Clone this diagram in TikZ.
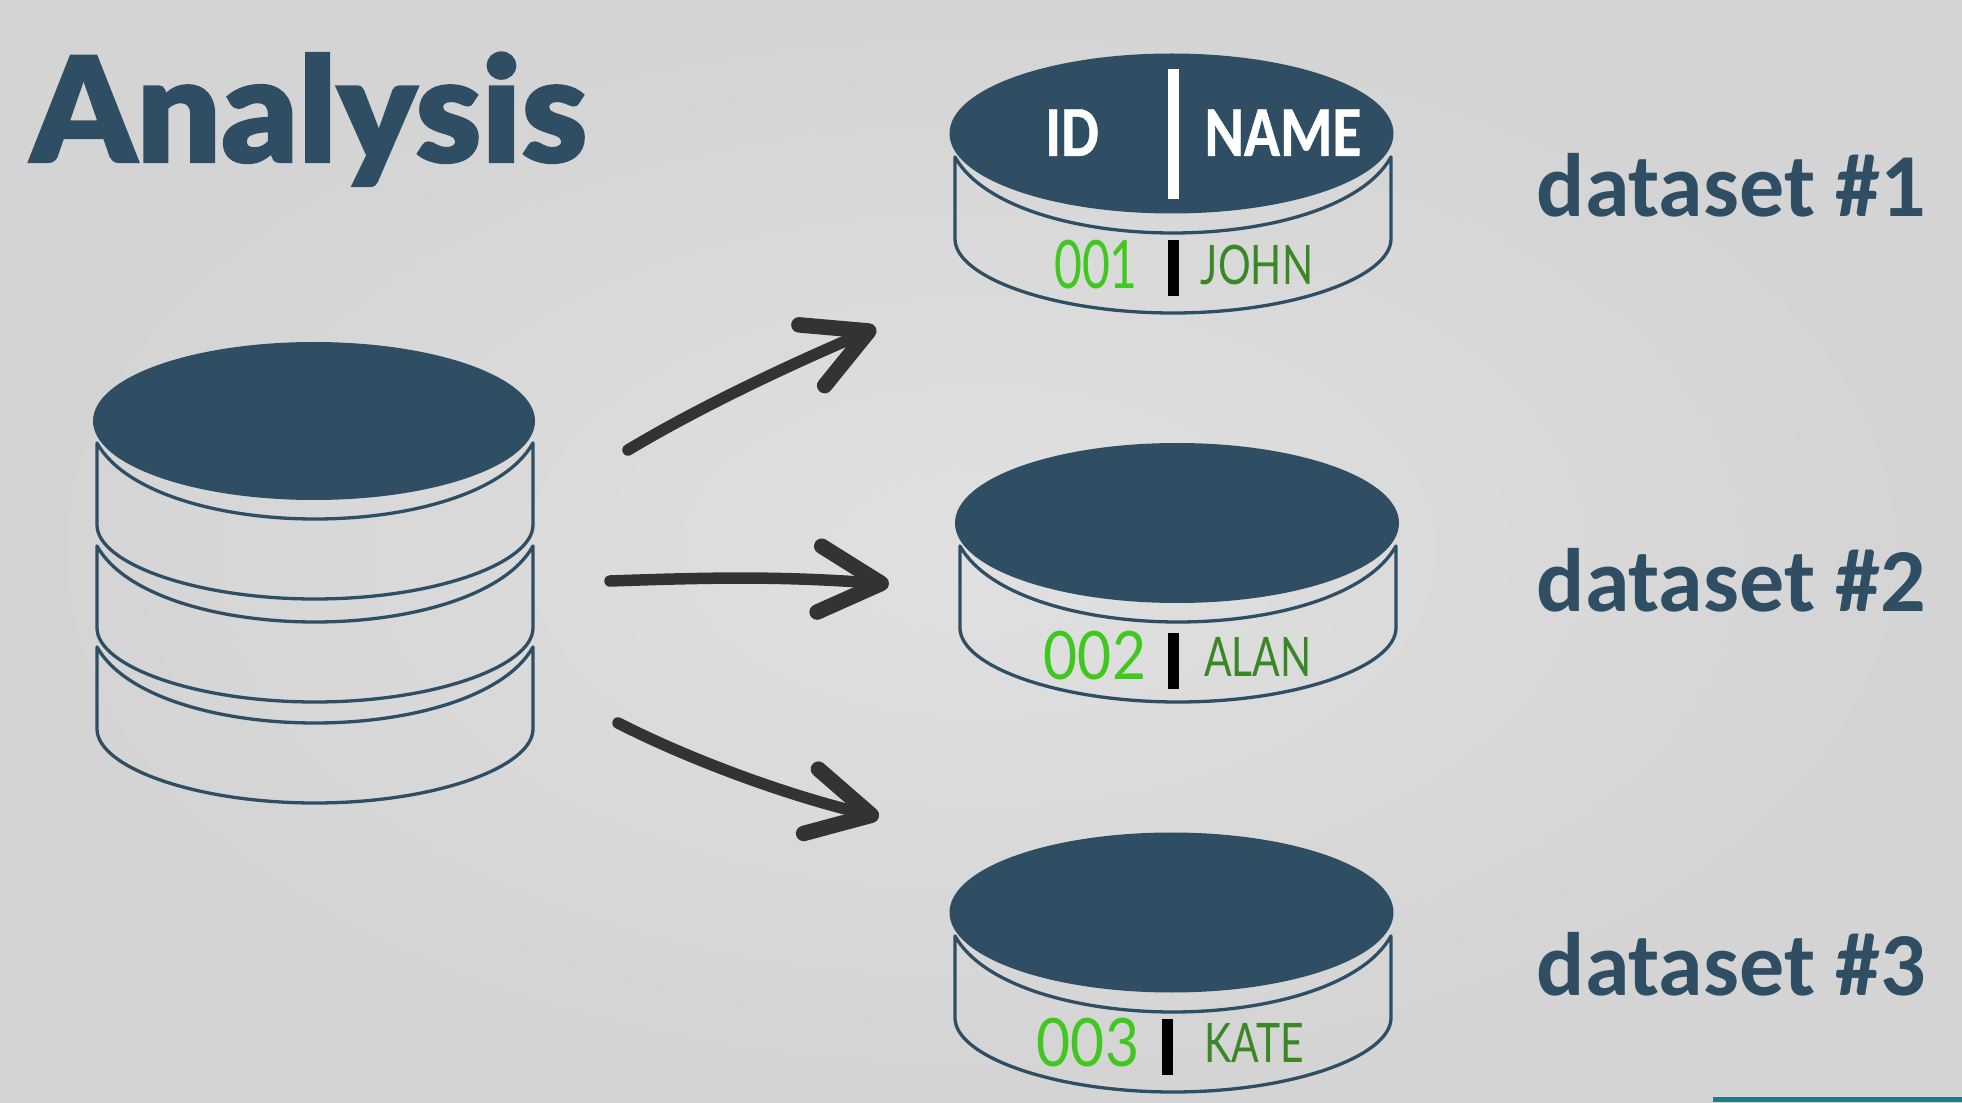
\documentclass[tikz,border=0pt]{standalone}
\usepackage{fontspec}
\usetikzlibrary{positioning, arrows.meta, shapes.geometric}
\setmainfont{Carlito}
\newfontfamily\titlefont[FakeBold=1.4, FakeStretch=1.02]{Lato Black}
\newfontfamily\condfont[FakeStretch=0.83, FakeBold=0.6]{Carlito}
\newfontfamily\lcdfont[FakeStretch=0.88]{Lato}
\newfontfamily\lcdnarrow[FakeStretch=0.72]{Lato}
\newfontfamily\lcdname[FakeStretch=0.75]{Lato}
\definecolor{diskblue}{RGB}{47,78,99}
\definecolor{arrowgray}{RGB}{51,51,53}
\definecolor{lcdbright}{RGB}{64,200,32}
\definecolor{lcddark}{RGB}{58,135,38}
\definecolor{cornerteal}{RGB}{31,122,133}
\tikzset{
 disktop/.style={ellipse, fill=diskblue, inner sep=0pt, minimum width=4.44cm, minimum height=1.6cm},
 bandline/.style={draw=diskblue, line width=0.033cm, line join=round},
 headtext/.style={text=white, inner sep=0pt, anchor=base, font=\condfont\bfseries\fontsize{20.5}{22}\selectfont},
 idtext/.style={text=lcdbright, inner sep=0pt, anchor=base, font=\lcdfont\fontsize{19}{20}\selectfont},
 nametext/.style={text=lcddark, inner sep=0pt, anchor=base, font=\lcdname\fontsize{15.5}{18}\selectfont},
 settext/.style={text=diskblue, inner sep=0pt, anchor=base west, font=\bfseries\fontsize{25.6}{28}\selectfont},
 flowarrow/.style={draw=arrowgray, line width=0.115cm, line cap=round, line join=round,
   -{Straight Barb[round, length=0.62cm, width=0.66cm, line width=0.155cm]}},
}
\newcommand{\diskband}[2]{%
 \draw[bandline, shift={(#1,#2)}] (-2.18,0) .. controls (-1.9,-0.5) and (-0.95,-0.76) .. (0,-0.76)
   .. controls (0.95,-0.76) and (1.9,-0.5) .. (2.18,0) -- (2.18,-0.82)
   .. controls (2.18,-1.2) and (1.2,-1.56) .. (0,-1.56)
   .. controls (-1.2,-1.56) and (-2.18,-1.2) .. (-2.18,-0.82) -- cycle;
}
\begin{document}
\begin{tikzpicture}
 \useasboundingbox (0,0) rectangle (19.62,11.02);
 \shade[inner color=black!12, outer color=black!17] (0,0) rectangle (19.62,11.02);
 \fill[cornerteal] (17.13,0) rectangle (19.62,0.05);

 \node[inner sep=0pt, anchor=base west, text=diskblue, font=\titlefont\fontsize{41.5}{44}\selectfont] (title) at (0.30,9.40) {Analysis};

 % source database
 \diskband{3.15}{6.59}
 \diskband{3.15}{5.56}
 \diskband{3.15}{4.55}
 \node[disktop, minimum width=4.42cm, minimum height=1.58cm] (sourcetop) at (3.14,6.81) {};

 % dataset 1
 \diskband{11.73}{9.45}
 \node[disktop] (disktopA) at (11.715,9.685) {};
 \fill[white] (11.68,9.03) rectangle (11.79,10.33);
 \fill[black] (11.68,8.06) rectangle (11.79,8.62);
 \node[headtext] (idhead) at (10.72,9.46) {ID};
 \node[headtext] (namehead) at (12.83,9.46) {NAME};
 \node[idtext, font=\lcdnarrow\fontsize{19}{20}\selectfont] (idA) at (10.96,8.13) {001};
 \node[nametext] (nameA) at (12.57,8.17) {JOHN};
 \node[settext] (setA) at (15.36,8.85) {dataset \#1};

 % dataset 2
 \diskband{11.78}{5.56}
 \node[disktop] (disktopB) at (11.77,5.79) {};
 \fill[black] (11.68,4.13) rectangle (11.79,4.69);
 \node[idtext] (idB) at (10.95,4.22) {002};
 \node[nametext] (nameB) at (12.58,4.25) {ALAN};
 \node[settext] (setB) at (15.36,4.90) {dataset \#2};

 % dataset 3
 \diskband{11.73}{1.66}
 \node[disktop] (disktopC) at (11.715,1.895) {};
 \fill[black] (11.62,0.27) rectangle (11.73,0.83);
 \node[idtext] (idC) at (10.88,0.36) {003};
 \node[nametext] (nameC) at (12.54,0.40) {KATE};
 \node[settext] (setC) at (15.36,1.07) {dataset \#3};

 % arrows
 \coordinate (startA) at (6.28,6.52);
 \coordinate (endA) at (8.76,7.74);
 \coordinate (startB) at (6.10,5.21);
 \coordinate (endB) at (8.89,5.18);
 \coordinate (startC) at (6.18,3.79);
 \coordinate (endC) at (8.79,2.85);
 \draw[flowarrow] (startA) to[out=31, in=203, looseness=0.8] (endA);
 \draw[flowarrow] (startB) to[out=2, in=176] (endB);
 \draw[flowarrow] (startC) to[out=-27, in=167, looseness=0.8] (endC);
\end{tikzpicture}
\end{document}
